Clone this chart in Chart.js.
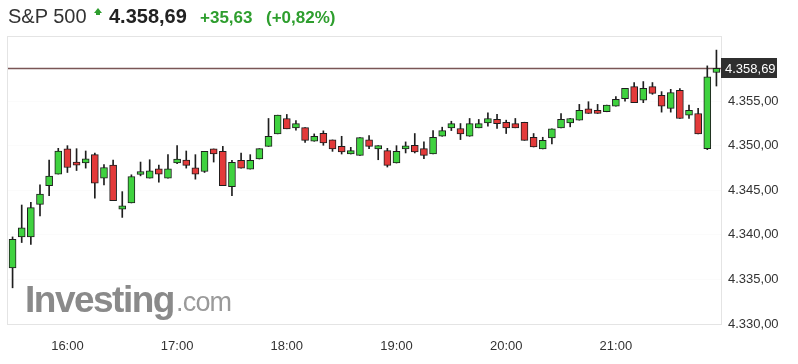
<!DOCTYPE html>
<html>
<head>
<meta charset="utf-8">
<script src="https://cdn.jsdelivr.net/npm/chart.js@4.4.0/dist/chart.umd.min.js"></script>
<style>
  html, body { margin: 0; padding: 0; background: #fff; }
  #wrap { position: relative; width: 798px; height: 364px; font-family: "Liberation Sans", Arial, sans-serif; }
  #wrap canvas { position: absolute; left: 0; top: 0; }
  .hd { position: absolute; white-space: nowrap; }
  .name { left: 8px; top: 6px; font-size: 20px; line-height: 20px; color: #333; }
  .arrow { left: 94px; top: 8px; width: 0; height: 0; border-left: 4px solid transparent; border-right: 4px solid transparent; border-bottom: 5px solid #2e9e2e; }
  .arrow-stem { left: 96px; top: 12px; width: 4px; height: 3px; background: #2e9e2e; }
  .last { left: 109px; top: 6px; font-size: 20px; line-height: 20px; font-weight: bold; color: #222; }
  .chg { top: 9px; font-size: 17px; line-height: 17px; font-weight: bold; color: #2e9e2e; }
  .logo { left: 25px; top: 281px; font-size: 37px; line-height: 37px; font-weight: bold; color: #8a8a8a; letter-spacing: -1.5px; }
  .logo-com { left: 176px; top: 288px; font-size: 27px; line-height: 28px; color: #9a9a9a; letter-spacing: -0.8px; }
</style>
</head>
<body>
<div id="wrap">
  <canvas id="spxChart" width="798" height="364"></canvas>
  <div class="hd name">S&amp;P 500</div>
  <div class="hd arrow"></div>
  <div class="hd arrow-stem"></div>
  <div class="hd last">4.358,69</div>
  <div class="hd chg" style="left:200px">+35,63</div>
  <div class="hd chg" style="left:266px">(+0,82%)</div>
  <div class="hd logo">Investing</div>
  <div class="hd logo-com">.com</div>
</div>
<script>
// 5 minute candles, 15:30 - 21:55
const times = [
  '15:30','15:35','15:40','15:45','15:50','15:55',
  '16:00','16:05','16:10','16:15','16:20','16:25','16:30','16:35','16:40','16:45','16:50','16:55',
  '17:00','17:05','17:10','17:15','17:20','17:25','17:30','17:35','17:40','17:45','17:50','17:55',
  '18:00','18:05','18:10','18:15','18:20','18:25','18:30','18:35','18:40','18:45','18:50','18:55',
  '19:00','19:05','19:10','19:15','19:20','19:25','19:30','19:35','19:40','19:45','19:50','19:55',
  '20:00','20:05','20:10','20:15','20:20','20:25','20:30','20:35','20:40','20:45','20:50','20:55',
  '21:00','21:05','21:10','21:15','21:20','21:25','21:30','21:35','21:40','21:45','21:50','21:55'
];
const opens = [
  4336.28, 4339.77, 4339.77, 4343.43, 4345.53, 4346.82, 4349.64, 4348.17, 4348.06, 4349.00, 4346.37, 4347.83,
  4342.87, 4343.58, 4346.77, 4346.37, 4347.42, 4346.37, 4348.06, 4348.40, 4347.53, 4347.11, 4349.64, 4349.37,
  4345.42, 4348.35, 4347.38, 4348.51, 4349.93, 4351.33, 4353.06, 4352.01, 4352.04, 4350.50, 4351.40, 4350.65,
  4349.93, 4349.07, 4348.92, 4350.65, 4349.64, 4349.45, 4348.06, 4349.64, 4350.05, 4349.67, 4349.07, 4351.06,
  4352.01, 4351.93, 4351.06, 4352.01, 4352.57, 4352.95, 4352.64, 4352.49, 4352.64, 4350.95, 4349.64, 4350.88,
  4352.01, 4352.57, 4352.87, 4354.15, 4353.96, 4353.81, 4354.45, 4355.28, 4356.64, 4355.12, 4356.64, 4355.65,
  4354.19, 4356.22, 4353.43, 4353.62, 4349.67, 4358.22
];
const highs = [
  4339.77, 4343.35, 4343.66, 4345.61, 4348.40, 4349.71, 4350.01, 4349.67, 4349.41, 4349.19, 4347.90, 4348.40,
  4344.85, 4346.74, 4348.17, 4348.43, 4347.83, 4349.00, 4350.01, 4349.41, 4349.00, 4349.37, 4349.64, 4349.93,
  4348.35, 4349.19, 4349.00, 4349.67, 4353.06, 4353.43, 4353.51, 4352.83, 4352.04, 4351.33, 4351.67, 4350.65,
  4351.06, 4349.82, 4350.91, 4351.14, 4350.01, 4349.71, 4350.01, 4350.43, 4351.37, 4350.43, 4351.70, 4352.08,
  4352.75, 4352.49, 4353.06, 4352.95, 4353.70, 4353.51, 4352.87, 4353.06, 4352.64, 4351.37, 4350.95, 4351.90,
  4353.62, 4353.06, 4354.64, 4354.94, 4354.64, 4354.56, 4355.51, 4356.44, 4357.09, 4357.20, 4357.09, 4356.07,
  4356.33, 4356.41, 4354.56, 4354.19, 4358.96, 4360.73
];
const lows = [
  4334.06, 4339.14, 4338.92, 4342.14, 4344.40, 4346.82, 4347.00, 4347.22, 4347.49, 4344.11, 4345.61, 4343.84,
  4341.96, 4343.58, 4346.62, 4346.37, 4345.91, 4346.37, 4347.98, 4347.49, 4346.25, 4347.00, 4348.17, 4345.53,
  4344.40, 4347.49, 4347.38, 4348.51, 4349.93, 4351.33, 4351.90, 4351.74, 4350.38, 4350.50, 4350.05, 4349.37,
  4349.07, 4349.07, 4348.92, 4349.67, 4348.43, 4347.61, 4348.06, 4349.19, 4349.19, 4348.54, 4349.07, 4351.06,
  4351.70, 4350.69, 4351.06, 4352.01, 4352.19, 4351.93, 4351.37, 4352.01, 4350.61, 4349.86, 4349.64, 4350.20,
  4352.01, 4352.12, 4352.87, 4353.62, 4353.62, 4353.81, 4354.45, 4355.01, 4354.83, 4354.83, 4355.77, 4353.77,
  4353.77, 4353.06, 4353.06, 4351.33, 4349.56, 4356.70
];
const closes = [
  4339.51, 4340.79, 4343.05, 4344.59, 4346.59, 4349.41, 4347.56, 4347.83, 4348.54, 4345.80, 4347.56, 4343.84,
  4343.27, 4346.55, 4347.11, 4347.19, 4346.82, 4347.42, 4348.51, 4347.79, 4346.82, 4349.37, 4349.07, 4345.53,
  4348.13, 4347.49, 4348.35, 4349.67, 4351.06, 4353.43, 4351.90, 4352.49, 4350.61, 4351.06, 4350.32, 4349.64,
  4349.30, 4349.45, 4350.91, 4349.93, 4350.01, 4347.79, 4349.37, 4349.93, 4349.30, 4348.92, 4350.95, 4351.70,
  4352.49, 4351.33, 4352.49, 4352.49, 4353.06, 4352.49, 4352.01, 4352.01, 4350.61, 4349.86, 4350.61, 4351.90,
  4352.95, 4353.06, 4353.96, 4353.62, 4353.62, 4354.56, 4355.20, 4356.44, 4354.83, 4356.44, 4355.88, 4354.45,
  4355.96, 4353.06, 4353.96, 4351.33, 4357.72, 4358.69
];
const yTicksMin = 4330;
const yTicksMax = 4362.2;
const yStep = 5;

const upColor = '#3fd23f';
const downColor = '#e33a3a';
const lastPrice = closes[closes.length - 1];

function fmtDe(v) {
  const parts = v.toFixed(2).split('.');
  return parts[0].replace(/\B(?=(\d{3})+(?!\d))/g, '.') + ',' + parts[1];
}

const isHour = i => times[i] && times[i].endsWith(':00');

const framePlugin = {
  id: 'frame',
  beforeDatasetsDraw(chart) {
    const { ctx, chartArea: a, scales } = chart;
    ctx.save();
    ctx.strokeStyle = '#e4e4e4';
    ctx.lineWidth = 1;
    ctx.strokeRect(a.left - 0.5, a.top - 0.5, a.right - a.left + 1, a.bottom - a.top + 1);
    // last price line
    const y = Math.round(scales.y.getPixelForValue(lastPrice)) + 0.5;
    ctx.strokeStyle = '#7a5656';
    ctx.lineWidth = 1.5;
    ctx.beginPath();
    ctx.moveTo(a.left, y);
    ctx.lineTo(a.right, y);
    ctx.stroke();
    ctx.restore();
  },
  afterDraw(chart) {
    const { ctx, chartArea: a, scales } = chart;
    const y = Math.round(scales.y.getPixelForValue(lastPrice));
    ctx.save();
    ctx.fillStyle = '#2f2f2f';
    ctx.fillRect(a.right, y - 10, 56, 20);
    ctx.fillStyle = '#fff';
    ctx.font = '13px "Liberation Sans", Arial, sans-serif';
    ctx.textBaseline = 'middle';
    ctx.fillText(fmtDe(lastPrice), a.right + 4, y + 1);
    ctx.restore();
  }
};

const ctx = document.getElementById('spxChart').getContext('2d');

new Chart(ctx, {
  type: 'bar',
  data: {
    labels: times,
    datasets: [{
      label: 'body',
      data: opens.map((o, i) => [o, closes[i]]),
      backgroundColor: opens.map((o, i) => closes[i] >= o ? upColor : downColor),
      borderColor: '#1e1e1e',
      borderWidth: 1,
      borderSkipped: false,
      barThickness: 7,
      minBarLength: 3,
      grouped: false,
      order: 0
    }, {
      label: 'wick',
      data: lows.map((l, i) => [l, highs[i]]),
      backgroundColor: '#1e1e1e',
      borderWidth: 0,
      barThickness: 1,
      grouped: false,
      order: 1
    }]
  },
  options: {
    responsive: false,
    devicePixelRatio: 1,
    animation: false,
    layout: { padding: { top: 37, left: 8, right: 0, bottom: 0 } },
    plugins: {
      legend: { display: false },
      tooltip: { enabled: false }
    },
    scales: {
      x: {
        offset: true,
        border: { display: false },
        grid: {
          offset: false,
          drawTicks: false,
          color: c => isHour(c.index) ? '#f6f6f6' : 'rgba(0,0,0,0)'
        },
        ticks: {
          autoSkip: false,
          maxRotation: 0,
          padding: 15,
          color: '#333',
          font: { family: '"Liberation Sans", Arial, sans-serif', size: 13 },
          callback: function(value, index) {
            return isHour(index) ? times[index] : null;
          }
        },
        afterFit: s => { s.height = 40; }
      },
      y: {
        position: 'right',
        min: yTicksMin,
        max: yTicksMax,
        border: { display: false },
        grid: { drawTicks: false, color: '#fbfbfb' },
        ticks: {
          stepSize: yStep,
          padding: 7,
          color: '#333',
          font: { family: '"Liberation Sans", Arial, sans-serif', size: 13 },
          callback: v => v > 4356 ? null : fmtDe(v)
        },
        afterFit: s => { s.width = 77; }
      }
    }
  },
  plugins: [framePlugin]
});
</script>
</body>
</html>
